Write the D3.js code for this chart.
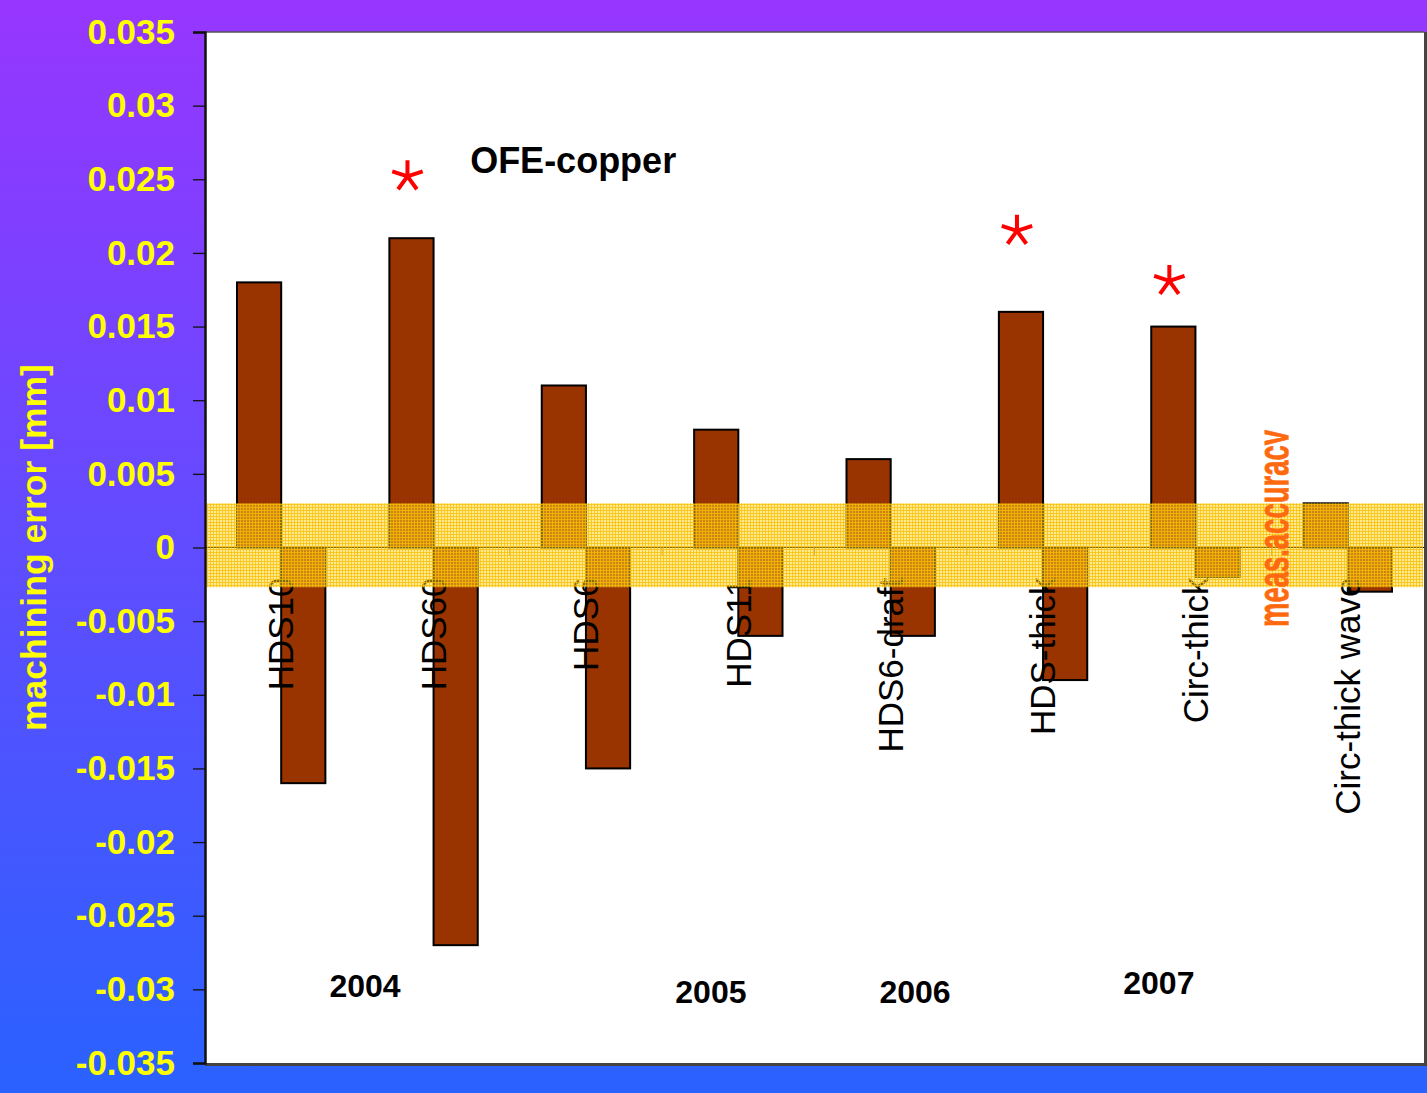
<!DOCTYPE html>
<html>
<head>
<meta charset="utf-8">
<script src="https://cdn.jsdelivr.net/npm/d3@7"></script>
<style>
  html, body { margin: 0; padding: 0; }
  svg { display: block; font-family: "Liberation Sans", Arial, sans-serif; }
</style>
</head>
<body>
<svg id="chart" width="1427" height="1093"></svg>
<script>
// Machining error per structure: positive and negative deviation (mm)
const categories = ["HDS10", "HDS60", "HDS6", "HDS11", "HDS6-draft", "HDS-thick", "Circ-thick", "Circ-thick wave"];
const positiveError = [0.018, 0.021, 0.011, 0.008, 0.006, 0.016, 0.015, 0.003];
const negativeError = [-0.016, -0.027, -0.015, -0.006, -0.006, -0.009, -0.002, -0.003];

// OFE-copper structures (asterisk markers)
const ofeCategories = ["HDS60", "HDS-thick", "Circ-thick"];
const ofeValues = [0.0252, 0.0215, 0.0181];

// Measurement accuracy band (mm)
const accuracyBand = [0.003, -0.0027];

// Axis ticks
const yTickValues = [0.035, 0.03, 0.025, 0.02, 0.015, 0.01, 0.005, 0, -0.005, -0.01, -0.015, -0.02, -0.025, -0.03, -0.035];
const yTickLabels = ["0.035", "0.03", "0.025", "0.02", "0.015", "0.01", "0.005", "0", "-0.005", "-0.01", "-0.015", "-0.02", "-0.025", "-0.03", "-0.035"];

// Production years
const years = ["2004", "2005", "2006", "2007"];

const W = 1427, H = 1093;
const plot = { left: 205, right: 1424, top: 32, bottom: 1063 };

const svg = d3.select("#chart");
const defs = svg.append("defs");

// background gradient
const grad = defs.append("linearGradient").attr("id", "bg").attr("x1", 0).attr("y1", 0).attr("x2", 0).attr("y2", 1);
grad.append("stop").attr("offset", "0%").attr("stop-color", "#9736ff");
grad.append("stop").attr("offset", "100%").attr("stop-color", "#2a62ff");
svg.append("rect").attr("width", W).attr("height", H).attr("fill", "url(#bg)");

// fine yellow grid pattern for the accuracy band
const pat = defs.append("pattern").attr("id", "gridfill").attr("patternUnits", "userSpaceOnUse")
  .attr("width", 3).attr("height", 3);
pat.append("rect").attr("width", 3).attr("height", 3).attr("fill", "rgb(255,214,40)").attr("fill-opacity", 0.5);
pat.append("rect").attr("width", 3).attr("height", 1).attr("fill", "rgb(250,190,0)").attr("fill-opacity", 0.72);
pat.append("rect").attr("width", 1).attr("height", 3).attr("y", 0).attr("fill", "rgb(250,190,0)").attr("fill-opacity", 0.72);

// scales
const y = d3.scaleLinear().domain([-0.035, 0.035]).range([plot.bottom, plot.top]);
const x0 = d3.scaleBand().domain(categories).range([plot.left, plot.right]).paddingInner(0.42).paddingOuter(0.21);
const x1 = d3.scaleBand().domain(["pos", "neg"]).range([0, x0.bandwidth()]);
const xu = d3.scaleLinear().domain([0, categories.length]).range([plot.left, plot.right]);

// plot area
svg.append("rect").attr("x", plot.left).attr("y", plot.top)
  .attr("width", plot.right - plot.left).attr("height", plot.bottom - plot.top).attr("fill", "#fff");

// bars
const rows = categories.map((c, i) => ({ c, pos: positiveError[i], neg: negativeError[i] }));
const bars = svg.append("g");
rows.forEach(r => {
  [["pos", r.pos], ["neg", r.neg]].forEach(([k, v]) => {
    bars.append("rect")
      .attr("x", x0(r.c) + x1(k))
      .attr("y", y(Math.max(v, 0)))
      .attr("width", x1.bandwidth())
      .attr("height", Math.abs(y(v) - y(0)))
      .attr("fill", "#993300")
      .attr("stroke", "#000")
      .attr("stroke-width", 2);
  });
});

// zero line with category separators
const y0 = y(0);
svg.append("line").attr("x1", plot.left).attr("x2", plot.right).attr("y1", y0).attr("y2", y0)
  .attr("stroke", "#000").attr("stroke-width", 1.2);
d3.range(1, categories.length).forEach(k => {
  svg.append("line").attr("x1", xu(k)).attr("x2", xu(k)).attr("y1", y0).attr("y2", y0 + 8)
    .attr("stroke", "#888").attr("stroke-width", 1);
});

// category labels (vertical)
svg.append("g").selectAll("text").data(categories).join("text")
  .attr("transform", d => `translate(${x0(d) + x0.bandwidth() / 2},${y0 + 30}) rotate(-90)`)
  .attr("text-anchor", "end")
  .attr("dy", "0.35em")
  .attr("font-size", 35)
  .attr("fill", "#000")
  .text(d => d);

// accuracy band on top
svg.append("rect")
  .attr("x", plot.left + 2).attr("width", plot.right - plot.left - 3)
  .attr("y", y(accuracyBand[0])).attr("height", y(accuracyBand[1]) - y(accuracyBand[0]))
  .attr("fill", "url(#gridfill)");

// band label
defs.append("clipPath").attr("id", "measclip").append("rect")
  .attr("x", plot.left).attr("y", plot.top).attr("width", xu(7.0) + 17 - plot.left).attr("height", plot.bottom - plot.top);
svg.append("g").attr("clip-path", "url(#measclip)").append("text")
  .attr("transform", `translate(${xu(7.0) + 17},${y(-0.0054)}) rotate(-90)`)
  .attr("font-size", 45).attr("font-weight", "bold").attr("fill", "#ff6a10")
  .attr("stroke", "#ff6a10").attr("stroke-width", 0.8)
  .attr("textLength", 197).attr("lengthAdjust", "spacingAndGlyphs")
  .text("meas.accuracy");

// OFE-copper asterisks
function asterisk(cx, cy, r) {
  const p = d3.path();
  for (let i = 0; i < 5; i++) {
    const a = -Math.PI / 2 + i * 2 * Math.PI / 5;
    p.moveTo(cx, cy);
    p.lineTo(cx + r * Math.cos(a), cy + r * Math.sin(a));
  }
  return p.toString();
}
svg.append("g").selectAll("path").data(ofeCategories.map((c, i) => ({ c, v: ofeValues[i] }))).join("path")
  .attr("d", d => asterisk(x0(d.c) + x1("pos") + x1.bandwidth() / 2 - 4, y(d.v), 16))
  .attr("stroke", "#ff0000").attr("stroke-width", 4).attr("stroke-linecap", "butt").attr("fill", "none");

svg.append("text").attr("x", xu(1.74)).attr("y", y(0.0254))
  .attr("font-size", 36).attr("font-weight", "bold").attr("fill", "#000").text("OFE-copper");

// year labels
const yearPos = [[1.05, -0.0305], [3.32, -0.0309], [4.66, -0.0309], [6.26, -0.0303]];
svg.append("g").selectAll("text").data(years).join("text")
  .attr("x", (d, i) => xu(yearPos[i][0])).attr("y", (d, i) => y(yearPos[i][1]))
  .attr("text-anchor", "middle").attr("font-size", 32).attr("font-weight", "bold").attr("fill", "#000")
  .text(d => d);

// frame
svg.append("path")
  .attr("d", `M${plot.right + 1.5},${plot.top}V${plot.bottom + 1.5}H${plot.left}`)
  .attr("fill", "none").attr("stroke", "#444").attr("stroke-width", 3);
svg.append("line").attr("x1", plot.left).attr("x2", plot.right).attr("y1", plot.top).attr("y2", plot.top)
  .attr("stroke", "#555").attr("stroke-width", 1.5);

// y axis
const yAxis = d3.axisLeft(y).tickValues(yTickValues).tickSize(12).tickPadding(18)
  .tickFormat((d, i) => yTickLabels[i]);
const ga = svg.append("g").attr("transform", `translate(${plot.left},0)`).call(yAxis);
ga.select(".domain").attr("stroke", "#111").attr("stroke-width", 2.5);
ga.selectAll(".tick line").attr("stroke", "#111").attr("stroke-width", 1.3);
ga.selectAll(".tick text").attr("fill", "#ffff00").attr("font-size", 35).attr("font-weight", "bold")
  .attr("font-family", "Liberation Sans, Arial, sans-serif");

// y axis title
svg.append("text")
  .attr("transform", `translate(46,${(plot.top + plot.bottom) / 2}) rotate(-90)`)
  .attr("text-anchor", "middle").attr("font-size", 35.5).attr("font-weight", "bold").attr("fill", "#ffff00")
  .text("machining error [mm]");
</script>
</body>
</html>
